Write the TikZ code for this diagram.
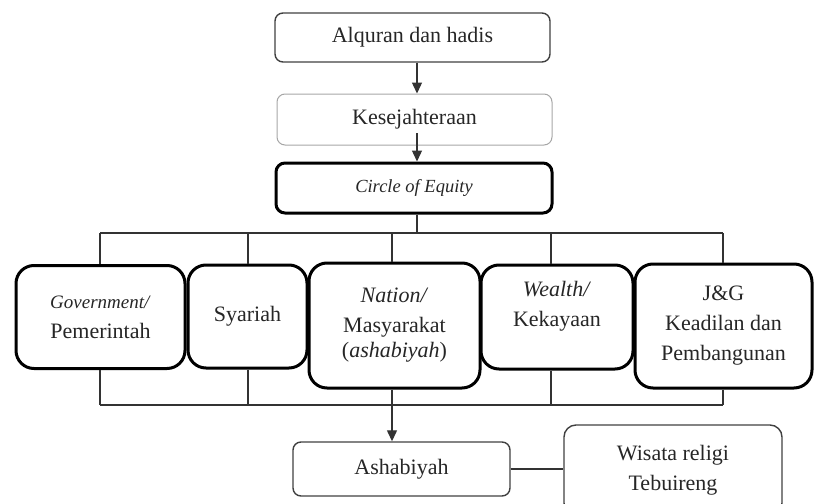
\documentclass[tikz,border=0pt]{standalone}
\usepackage{fontspec}
\setmainfont{Liberation Serif}
\usetikzlibrary{arrows.meta}
\definecolor{txt}{HTML}{262626}
\begin{document}
\begin{tikzpicture}[x=1pt,y=-1pt,
 every node/.style={font=\fontsize{22}{30}\selectfont, text=txt, align=center, inner sep=0pt},
 thinbox/.style={draw=black!75, line width=1.4pt, rounded corners=8pt},
 greybox/.style={draw=black!35, line width=1pt, rounded corners=8pt},
 thickbox/.style={draw=black, line width=3pt, rounded corners=18pt},
 conn/.style={draw=black!80, line width=1.3pt},
 arr/.style={conn, -{Triangle[width=10pt,length=11pt]}}]
\clip (0,0) rectangle (815,504);
% top chain
\node[thinbox, minimum width=275pt, minimum height=49pt] (alq) at (412.5,37.5) {Alquran dan hadis};
\node[greybox, minimum width=275pt, minimum height=51pt] (kes) at (414.5,119.5) {Kesejahteraan};
\node[thickbox, rounded corners=9pt, minimum width=276pt, minimum height=50pt, font=\fontsize{18.5}{22}\selectfont\itshape] (cir) at (414,188) {Circle of Equity};
% row
\node[thickbox, minimum width=169pt, minimum height=103pt] (gov) at (100.5,317) {{\fontsize{19}{30}\selectfont\textit{Government/}}\\Pemerintah};
\node[thickbox, minimum width=119pt, minimum height=103pt] (sya) at (247.5,316.5) {Syariah};
\node[thickbox, minimum width=171pt, minimum height=125pt] (nat) at (394.5,325.5) {\textit{Nation/}\\Masyarakat\\[-5pt](\textit{ashabiyah})};
\node[thickbox, minimum width=152pt, minimum height=104pt] (wea) at (557,317) {};
\node (weat) at (557,306) {\textit{Wealth/}\\Kekayaan};
\node[thickbox, minimum width=177pt, minimum height=124pt] (jg) at (723.5,326) {J\&G\\Keadilan dan\\Pembangunan};
% bottom
\node[thinbox, minimum width=217pt, minimum height=54pt] (ash) at (401.5,469) {Ashabiyah};
\node[thinbox, rounded corners=12pt, minimum width=218pt, minimum height=90pt] (wis) at (673,470) {Wisata religi\\Tebuireng};
% coordinates
\coordinate (ax) at (417,0);
\coordinate (a2) at (417,133);
\coordinate (tb) at (0,233);
\coordinate (bb) at (0,405);
\coordinate (c1) at (100,0);
\coordinate (c2) at (248,0);
\coordinate (c3) at (392,0);
\coordinate (c4) at (551,0);
\coordinate (c5) at (723,0);
% connectors
\draw[arr] (alq.south -| ax) -- (kes.north -| ax);
\draw[arr] (a2) -- (cir.north -| a2);
\draw[conn] (cir.south -| ax) -- (ax |- tb);
\draw[conn] (c1 |- tb) -- (c5 |- tb);
\draw[conn] (c1 |- tb) -- (c1 |- gov.north);
\draw[conn] (c2 |- tb) -- (c2 |- sya.north);
\draw[conn] (c3 |- tb) -- (c3 |- nat.north);
\draw[conn] (c4 |- tb) -- (c4 |- wea.north);
\draw[conn] (c5 |- tb) -- (c5 |- jg.north);
\draw[conn] (c1 |- bb) -- (c5 |- bb);
\draw[conn] (c1 |- gov.south) -- (c1 |- bb);
\draw[conn] (c2 |- sya.south) -- (c2 |- bb);
\draw[conn] (c4 |- wea.south) -- (c4 |- bb);
\draw[conn] (c5 |- jg.south) -- (c5 |- bb);
\draw[arr] (c3 |- nat.south) -- (c3 |- ash.north);
\draw[conn] (ash.east) -- (ash.east -| wis.west);
\end{tikzpicture}
\end{document}
